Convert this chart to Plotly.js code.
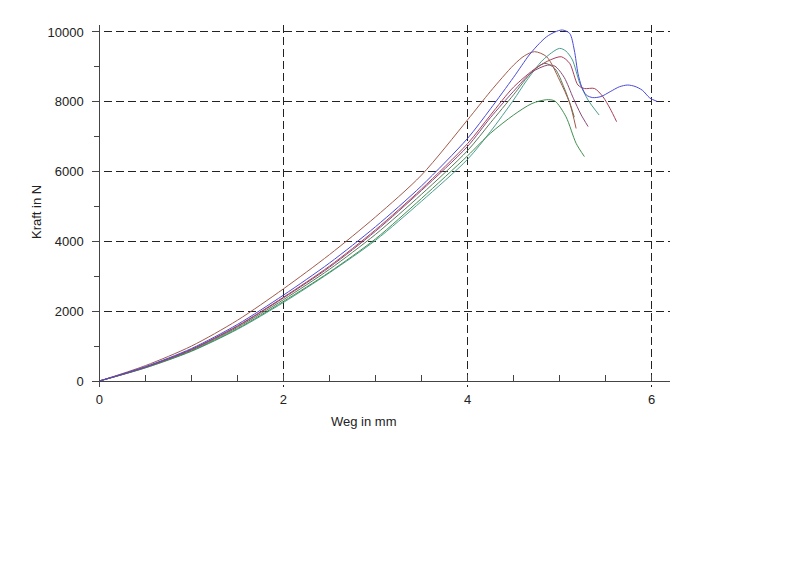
<!DOCTYPE html>
<html>
<head>
<meta charset="utf-8">
<script src="https://cdn.plot.ly/plotly-3.0.1.min.js"></script>
<style>html,body{margin:0;padding:0;background:#fff;}#chart{width:800px;height:586px;}</style>
</head>
<body>
<div id="chart"></div>
<script>
// Weg in mm (x) and Kraft in N (y) per specimen curve
const brownX  = [0, 0.5, 1, 1.5, 2, 2.5, 3, 3.5, 4, 4.25, 4.5, 4.62, 4.73, 4.86, 5.0, 5.11, 5.18];
const brownY  = [0, 440, 1000, 1740, 2640, 3620, 4700, 5900, 7480, 8300, 9050, 9320, 9435, 9290, 8620, 7960, 7235];

const blueX   = [0, 0.5, 1, 1.5, 2, 2.5, 3, 3.5, 4, 4.25, 4.5, 4.67, 4.78, 4.86, 4.95, 5.03, 5.11, 5.16, 5.2, 5.24, 5.29, 5.36, 5.45, 5.55, 5.65, 5.74, 5.82, 5.9, 5.98, 6.06];
const blueY   = [0, 410, 930, 1620, 2460, 3380, 4420, 5590, 6950, 7800, 8700, 9340, 9670, 9865, 10000, 10057, 9960, 9484, 8815, 8433, 8195, 8120, 8150, 8290, 8430, 8480, 8440, 8330, 8110, 8010];

const maroonX = [0, 0.5, 1, 1.5, 2, 2.5, 3, 3.5, 4, 4.25, 4.5, 4.75, 4.9, 5.02, 5.11, 5.2, 5.27, 5.38, 5.47, 5.55, 5.62];
const maroonY = [0, 400, 905, 1580, 2400, 3290, 4330, 5500, 6800, 7620, 8420, 8980, 9200, 9290, 9100, 8480, 8380, 8380, 8150, 7800, 7430];

const purpleX = [0, 0.5, 1, 1.5, 2, 2.5, 3, 3.5, 4, 4.25, 4.5, 4.7, 4.87, 4.95, 5.05, 5.15, 5.23, 5.31];
const purpleY = [0, 395, 900, 1565, 2380, 3260, 4290, 5460, 6720, 7550, 8300, 8850, 9050, 9020, 8700, 8100, 7650, 7290];

const dkgreenX = [0, 0.5, 1, 1.5, 2, 2.5, 3, 3.5, 4, 4.25, 4.5, 4.7, 4.84, 4.95, 5.05, 5.12, 5.16];
const dkgreenY = [0, 390, 880, 1535, 2330, 3200, 4200, 5350, 6600, 7400, 8200, 8850, 9100, 8950, 8400, 7900, 7560];

const greenX  = [0, 0.5, 1, 1.5, 2, 2.5, 3, 3.5, 4, 4.25, 4.5, 4.7, 4.86, 4.95, 5.07, 5.18, 5.27];
const greenY  = [0, 380, 860, 1500, 2280, 3120, 4070, 5230, 6450, 7100, 7620, 7950, 8060, 8020, 7570, 6810, 6430];

const tealX   = [0, 0.5, 1, 1.5, 2, 2.5, 3, 3.5, 4, 4.25, 4.5, 4.64, 4.82, 5.0, 5.07, 5.14, 5.22, 5.31, 5.43];
const tealY   = [0, 375, 850, 1480, 2250, 3100, 4030, 5150, 6350, 7150, 8050, 8600, 9200, 9530, 9450, 9198, 8530, 8050, 7620];

const curves = [
  {x: tealX, y: tealY, color: '#4a9f8f'},
  {x: greenX, y: greenY, color: '#3f8f4f'},
  {x: dkgreenX, y: dkgreenY, color: '#5a7a5a'},
  {x: purpleX, y: purpleY, color: '#8a4a7a'},
  {x: maroonX, y: maroonY, color: '#a8405a'},
  {x: brownX, y: brownY, color: '#a05a4a'},
  {x: blueX, y: blueY, color: '#4a4ad8'}
];

const xTicks = [0, 2, 4, 6];
const yTicks = [0, 2000, 4000, 6000, 8000, 10000];

const traces = curves.map(c => ({
  x: c.x, y: c.y, type: 'scatter', mode: 'lines',
  line: {color: c.color, width: 1, shape: 'spline', smoothing: 0.8},
  hoverinfo: 'skip', showlegend: false
}));

const xr = [-0.08, 6.2];
const yr = [-172, 10200];

const layout = {
  width: 800, height: 586,
  margin: {l: 92, r: 130, t: 25, b: 199},
  paper_bgcolor: '#fff', plot_bgcolor: '#fff',
  font: {family: 'Liberation Sans, Arial, sans-serif', size: 13, color: '#222'},
  showlegend: false,
  xaxis: {
    range: xr, anchor: 'free', position: (0 - yr[0]) / (yr[1] - yr[0]),
    tickvals: xTicks, ticktext: xTicks.map(String),
    ticks: 'inside', ticklen: 6, tickcolor: '#444', tickwidth: 1,
    minor: {dtick: 0.5, tick0: 0, ticks: 'inside', ticklen: 6, tickcolor: '#444', showgrid: false},
    showline: true, linecolor: '#444', linewidth: 1,
    showgrid: true, gridcolor: '#222', gridwidth: 1, griddash: '8px,4px',
    zeroline: false, ticklabelstandoff: 6
  },
  yaxis: {
    range: yr, anchor: 'free', position: (0 - xr[0]) / (xr[1] - xr[0]),
    tickvals: yTicks, ticktext: yTicks.map(String),
    ticks: 'outside', ticklen: 7, tickcolor: '#444', tickwidth: 1,
    minor: {dtick: 1000, tick0: 0, ticks: 'outside', ticklen: 5, tickcolor: '#444', showgrid: false},
    showline: true, linecolor: '#444', linewidth: 1,
    showgrid: true, gridcolor: '#222', gridwidth: 1, griddash: '8px,4px',
    zeroline: false, ticklabelstandoff: 6
  },
  annotations: [
    {text: 'Weg in mm', xref: 'paper', yref: 'paper', x: (364 - 92) / 578, y: (387 - 421) / 362,
     xanchor: 'center', yanchor: 'middle', showarrow: false, font: {size: 13, color: '#222'}},
    {text: 'Kraft in N', xref: 'paper', yref: 'paper', x: (36 - 92) / 578, y: (387 - 212) / 362,
     textangle: -90, xanchor: 'center', yanchor: 'middle', showarrow: false, font: {size: 13, color: '#222'}}
  ]
};

Plotly.newPlot('chart', traces, layout, {staticPlot: true, displayModeBar: false});
</script>
</body>
</html>
